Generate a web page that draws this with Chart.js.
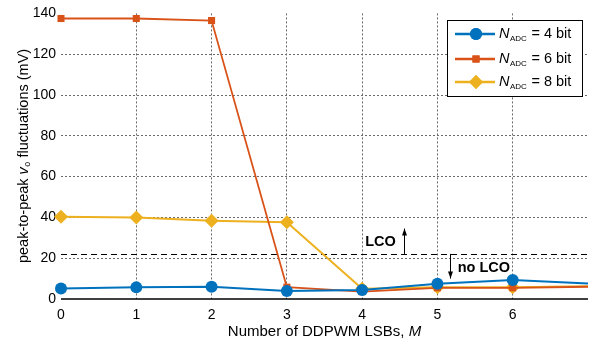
<!DOCTYPE html>
<html>
<head>
<meta charset="utf-8">
<script src="https://cdn.jsdelivr.net/npm/chart.js@4.4.1/dist/chart.umd.min.js"></script>
<style>
html,body{margin:0;padding:0;background:#fff;}
#wrap{width:595px;height:345px;position:relative;}
</style>
</head>
<body>
<div id="wrap"><canvas id="c" width="595" height="345"></canvas></div>
<script>
const mValues = [0, 1, 2, 3, 4, 5, 6, 7];
const xTickLabels = ['0', '1', '2', '3', '4', '5', '6'];
const yTickValues = [0, 20, 40, 60, 80, 100, 120, 140];
const adc4 = [5.2, 5.7, 6.0, 3.9, 4.4, 7.5, 9.3, 7.6];
const adc6 = [137.5, 137.5, 136.5, 5.8, 3.6, 5.5, 5.5, 6.0];
const adc8 = [40.3, 40.0, 38.4, 37.6, 5.0, 5.8, 5.8, 6.3];
const seriesNames = ['4 bit', '6 bit', '8 bit'];
const lcoThreshold = 22.1;

const FONT = '"Liberation Sans", Arial, Helvetica, sans-serif';
const colors = ['#0072BD', '#D95319', '#EDB120'];
const styles = ['circle', 'rect', 'rectRot'];
const radii = [6, 5, 7];

function pts(arr){ return mValues.map((m,i)=>({x:m, y:arr[i]})); }
function radArr(r){ return mValues.map(m => m <= 6 ? r : 0); }

const seriesData = [adc4, adc6, adc8];
const datasets = seriesData.map((d,i)=>({
  label: 'N_ADC = ' + seriesNames[i],
  data: pts(d),
  borderColor: colors[i],
  backgroundColor: colors[i],
  borderWidth: i===1 ? 1.8 : 2,
  pointStyle: styles[i],
  pointRadius: radArr(radii[i]),
  pointHoverRadius: radArr(radii[i]),
  pointBorderWidth: 0,
  tension: 0,
  clip: false
}));

const overlay = {
  id: 'overlay',
  beforeDatasetsDraw(chart){
    const {ctx, chartArea:a, scales:{x,y}} = chart;
    const yy = Math.round(y.getPixelForValue(lcoThreshold)) + 0.5;
    ctx.save();
    ctx.strokeStyle = '#000';
    ctx.lineWidth = 1;
    ctx.setLineDash([6,4]);
    ctx.beginPath(); ctx.moveTo(a.left, yy); ctx.lineTo(a.right, yy); ctx.stroke();
    ctx.setLineDash([]);
    ctx.lineWidth = 1.5;
    const yb = y.getPixelForValue(0);
    ctx.beginPath(); ctx.moveTo(a.left, yb); ctx.lineTo(a.right, yb); ctx.stroke();
    ctx.restore();
  },
  afterDraw(chart){
    const {ctx, chartArea:a, scales:{x,y}} = chart;
    ctx.save();
    ctx.fillStyle = '#000';
    ctx.font = 'bold 14.5px ' + FONT;
    ctx.textBaseline = 'middle';
    ctx.textAlign = 'left';
    ctx.fillText('LCO', x.getPixelForValue(4.04), y.getPixelForValue(27.8));
    ctx.fillText('no LCO', x.getPixelForValue(5.27), y.getPixelForValue(15));
    const yTh = y.getPixelForValue(lcoThreshold);
    function arrow(px, y0, y1){
      ctx.strokeStyle = '#000'; ctx.lineWidth = 1; ctx.setLineDash([]);
      ctx.beginPath(); ctx.moveTo(px, y0); ctx.lineTo(px, y1); ctx.stroke();
      const dir = y1 < y0 ? -1 : 1;
      ctx.beginPath();
      ctx.moveTo(px, y1);
      ctx.lineTo(px-2.5, y1 - dir*7);
      ctx.lineTo(px+2.5, y1 - dir*7);
      ctx.closePath(); ctx.fill();
    }
    arrow(Math.round(x.getPixelForValue(4.55))+0.5, yTh, y.getPixelForValue(34.5));
    arrow(Math.round(x.getPixelForValue(5.17))+0.5, yTh, y.getPixelForValue(10));

    // legend
    const lx = 447.5, ly = 20.5, lw = 135, lh = 76;
    ctx.fillStyle = '#fff';
    ctx.fillRect(lx, ly, lw, lh);
    ctx.strokeStyle = '#000'; ctx.lineWidth = 1;
    ctx.strokeRect(lx, ly, lw, lh);
    const rowY = [34, 59, 82];
    for (let i=0;i<3;i++){
      const ry = rowY[i];
      ctx.strokeStyle = colors[i]; ctx.lineWidth = 2.5;
      ctx.beginPath(); ctx.moveTo(455, ry); ctx.lineTo(495, ry); ctx.stroke();
      ctx.fillStyle = colors[i];
      Chart.helpers.drawPoint(ctx, {pointStyle: styles[i], radius: radii[i], borderWidth:0}, 476, ry);
      ctx.fill();
      ctx.fillStyle = '#000';
      ctx.textBaseline = 'middle';
      ctx.textAlign = 'left';
      ctx.font = 'italic 14.5px ' + FONT;
      ctx.fillText('N', 499, ry);
      let w = ctx.measureText('N').width;
      ctx.font = '8px ' + FONT;
      ctx.fillText('ADC', 499 + w + 0.5, ry + 5);
      let w2 = ctx.measureText('ADC').width;
      ctx.font = '14.5px ' + FONT;
      ctx.fillText(' = ' + seriesNames[i], 499 + w + w2 + 1, ry);
    }

    // x title
    ctx.fillStyle = '#000';
    ctx.textBaseline = 'middle';
    const xt1 = 'Number of DDPWM LSBs, ';
    ctx.font = '15px ' + FONT;
    const w1 = ctx.measureText(xt1).width;
    ctx.font = 'italic 15px ' + FONT;
    const wm = ctx.measureText('M').width;
    const cx = (a.left + a.right)/2;
    let sx = cx - (w1+wm)/2;
    ctx.font = '15px ' + FONT;
    ctx.textAlign = 'left';
    ctx.fillText(xt1, sx, 332);
    ctx.font = 'italic 15px ' + FONT;
    ctx.fillText('M', sx + w1, 332);

    // y title
    ctx.translate(24, (a.top + a.bottom)/2);
    ctx.rotate(-Math.PI/2);
    const p1 = 'peak-to-peak ', p2 = 'v', p3 = 'o', p4 = ' fluctuations (mV)';
    ctx.font = '14.5px ' + FONT; const q1 = ctx.measureText(p1).width; const q4 = ctx.measureText(p4).width;
    ctx.font = 'italic 14.5px ' + FONT; const q2 = ctx.measureText(p2).width;
    ctx.font = '9px ' + FONT; const q3 = ctx.measureText(p3).width;
    let tx = -(q1+q2+q3+q4)/2;
    ctx.textAlign = 'left';
    ctx.font = '14.5px ' + FONT; ctx.fillText(p1, tx, 0); tx += q1;
    ctx.font = 'italic 14.5px ' + FONT; ctx.fillText(p2, tx, 0); tx += q2;
    ctx.font = '9px ' + FONT; ctx.fillText(p3, tx+0.5, 4); tx += q3 + 0.5;
    ctx.font = '14.5px ' + FONT; ctx.fillText(p4, tx, 0);
    ctx.restore();
  }
};

new Chart(document.getElementById('c'), {
  type: 'line',
  data: { datasets },
  options: {
    responsive: false,
    animation: false,
    devicePixelRatio: 1,
    layout: { padding: { top: 10, right: 5, left: 0, bottom: 0 } },
    plugins: { legend: { display: false }, tooltip: { enabled: false } },
    scales: {
      x: {
        type: 'linear', min: 0, max: 7,
        afterBuildTicks(s){ s.ticks = xTickLabels.map(v=>({value: Number(v)})); },
        afterFit(s){ s.height = 46; },
        ticks: { color: '#000', font: { family: FONT, size: 14 }, padding: 8, maxRotation: 0 },
        grid: {
          color: ctx => ctx.tick && ctx.tick.value === 0 ? 'rgba(0,0,0,0)' : '#6a6a6a',
          lineWidth: 1,
          drawTicks: false,
          tickLength: 0
        },
        border: { display: false, dash: [2,2] }
      },
      y: {
        type: 'linear', min: 0, max: 140,
        afterBuildTicks(s){ s.ticks = yTickValues.map(v=>({value: v})); },
        afterFit(s){ s.width = 61; },
        ticks: { color: '#000', font: { family: FONT, size: 14 }, padding: 5 },
        grid: {
          color: ctx => (ctx.tick && (ctx.tick.value === 0 || ctx.tick.value === 140)) ? 'rgba(0,0,0,0)' : '#6a6a6a',
          lineWidth: 1,
          drawTicks: false
        },
        border: { display: false, dash: [2,2] }
      }
    }
  },
  plugins: [overlay]
});
</script>
</body>
</html>
